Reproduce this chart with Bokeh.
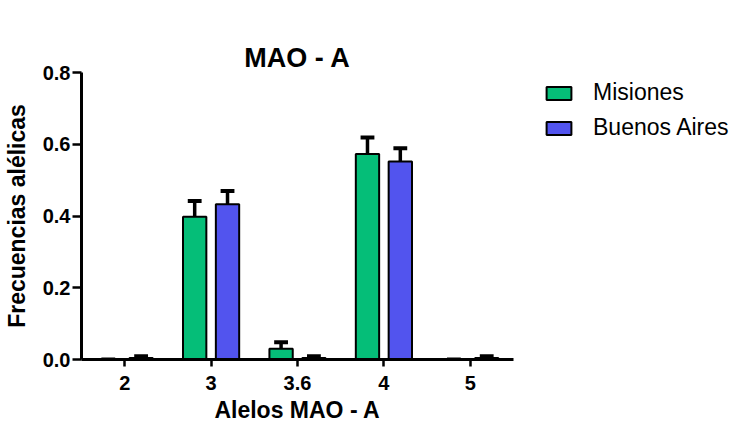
from bokeh.plotting import figure
from bokeh.models import FixedTicker, NumeralTickFormatter, Legend, LegendItem, Range1d, FactorRange, Title
from bokeh.transform import dodge
from bokeh.embed import file_html
from bokeh.resources import INLINE
from bokeh.models import ColumnDataSource

alleles = ["2", "3", "3.6", "4", "5"]
misiones = [0.0, 0.398, 0.030, 0.573, 0.0]
misiones_err = [0.0, 0.044, 0.018, 0.046, 0.0]
buenos_aires = [0.004, 0.433, 0.004, 0.552, 0.004]
buenos_aires_err = [0.005, 0.037, 0.005, 0.037, 0.005]
y_ticks = [0.0, 0.2, 0.4, 0.6, 0.8]

GREEN = "#05BE78"
BLUE = "#5254EE"
FONT = "Liberation Sans"

src = ColumnDataSource(dict(
    allele=alleles,
    m=misiones, m_top=[v + e for v, e in zip(misiones, misiones_err)],
    b=buenos_aires, b_top=[v + e for v, e in zip(buenos_aires, buenos_aires_err)],
))

p = figure(frame_width=432, frame_height=287, x_range=FactorRange(*alleles, range_padding=0),
           y_range=Range1d(0, 0.8), output_backend="svg", toolbar_location=None,
           min_border_left=81, min_border_right=220, min_border_top=72, min_border_bottom=62)
p.x_range.range_padding = 0
p.outline_line_color = None
p.grid.visible = False
p.background_fill_color = "white"

off = 0.19
bw = 0.27
cap = 0.08

r1 = p.vbar(x=dodge("allele", -off, range=p.x_range), top="m", width=bw, source=src,
            fill_color=GREEN, line_color="black", line_width=2)
r2 = p.vbar(x=dodge("allele", off, range=p.x_range), top="b", width=bw, source=src,
            fill_color=BLUE, line_color="black", line_width=2)

for o, lo, hi in [(-off, "m", "m_top"), (off, "b", "b_top")]:
    p.segment(x0=dodge("allele", o, range=p.x_range), x1=dodge("allele", o, range=p.x_range),
              y0=lo, y1=hi, source=src, line_color="black", line_width=3.5)
    p.segment(x0=dodge("allele", o - cap, range=p.x_range), x1=dodge("allele", o + cap, range=p.x_range),
              y0=hi, y1=hi, source=src, line_color="black", line_width=4)

# invisible spacer between the frame and the real title
p.title.text = " "
p.title.text_font_size = "1px"
p.title.text_alpha = 0
p.title.standoff = 28

main_title = Title(text="MAO - A", align="center", text_font=FONT, text_font_size="27px",
                   text_font_style="bold", text_color="black", standoff=0, offset=0)
p.add_layout(main_title, "above")

for ax in (p.xaxis[0], p.yaxis[0]):
    ax.axis_line_width = 3
    ax.axis_line_color = "black"
    ax.major_tick_line_width = 2.5
    ax.major_tick_line_color = "black"
    ax.major_tick_out = 9
    ax.major_tick_in = 0
    ax.minor_tick_line_color = None
    ax.major_label_text_font = FONT
    ax.major_label_text_font_style = "bold"
    ax.major_label_text_font_size = "20px"
    ax.major_label_text_color = "black"
    ax.axis_label_text_font = FONT
    ax.axis_label_text_font_style = "bold"
    ax.axis_label_text_font_size = "23px"
    ax.axis_label_text_color = "black"

p.yaxis.ticker = FixedTicker(ticks=y_ticks)
p.yaxis.formatter = NumeralTickFormatter(format="0.0")
p.yaxis.axis_label = "Frecuencias alélicas"
p.yaxis.major_label_standoff = 2
p.yaxis.axis_label_standoff = 10
p.xaxis.axis_label = "Alelos MAO - A"
p.xaxis.major_tick_out = 7
p.xaxis.major_label_standoff = 9
p.xaxis.axis_label_standoff = 4

legend = Legend(items=[LegendItem(label="Misiones", renderers=[r1]),
                       LegendItem(label="Buenos Aires", renderers=[r2])],
                location=(30, 218))
legend.border_line_color = None
legend.background_fill_alpha = 0
legend.label_text_font = FONT
legend.label_text_font_size = "23px"
legend.label_text_color = "black"
legend.glyph_width = 31
legend.glyph_height = 16
legend.label_standoff = 19
legend.spacing = 8
legend.margin = 0
legend.padding = 0
legend.label_height = 24
p.add_layout(legend, "right")

open("out.html", "w").write(file_html(p, INLINE))
